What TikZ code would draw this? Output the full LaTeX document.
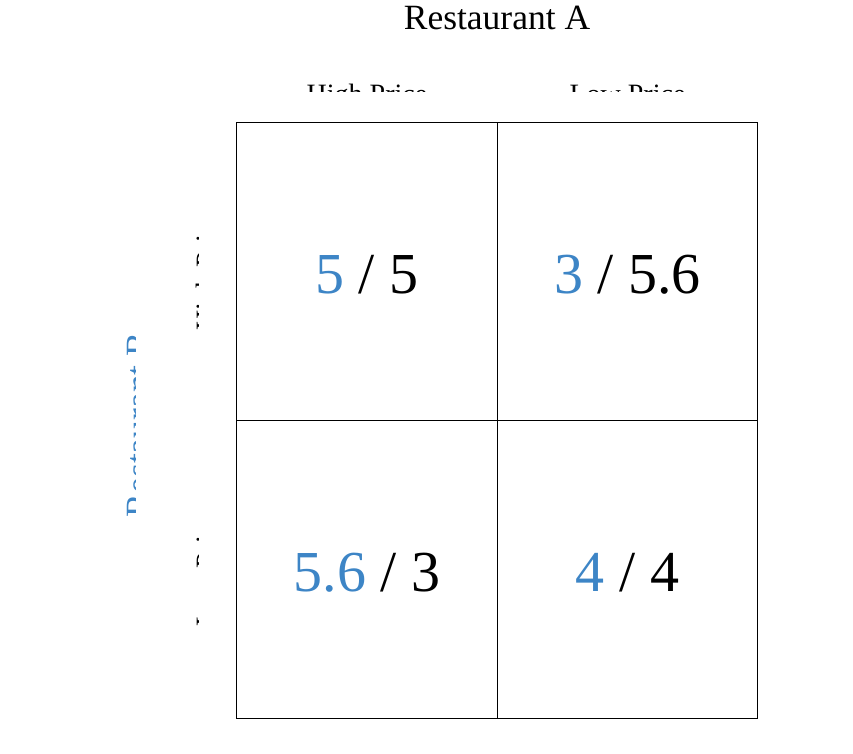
\documentclass[tikz,border=0pt]{standalone}
\usepackage{fontspec}
\setmainfont{Liberation Serif}
\usetikzlibrary{positioning}
\definecolor{payoff-blue}{RGB}{61,133,198}

\tikzset{
  cell/.style={draw=black, line width=0.8pt, minimum width=260.5pt, minimum height=298pt,
    inner sep=0pt, text height=44pt, text depth=0pt, font=\fontsize{58}{64}\selectfont},
  header/.style={font=\fontsize{28}{32}\selectfont, inner sep=0pt, anchor=base},
  title/.style={font=\fontsize{35.5}{40}\selectfont, inner sep=0pt, anchor=base},
}

\begin{document}
\begin{tikzpicture}[x=1pt,y=-1pt]
\useasboundingbox (0,0) rectangle (853,753);
\node[title] (resta) at (497,29.5) {Restaurant A};
\begin{scope}
\clip (0,0) rectangle (853,91);
\node[header] (colhigh) at (367,103.5) {High Price};
\node[header] (collow) at (627.5,103.5) {Low Price};
\end{scope}
\begin{scope}
\clip (0,0) rectangle (198,753);
\node[header, rotate=90] (rowhigh) at (215.8,270) {High Price};
\node[header, rotate=90] (rowlow) at (215.8,569) {Low Price};
\end{scope}
\begin{scope}
\clip (0,0) rectangle (135,753);
\node[title, rotate=90, text=payoff-blue] (restb) at (150.5,425) {Restaurant B};
\end{scope}
\node[cell] (hh) at (367,271) {\textcolor{payoff-blue}{5} / 5};
\node[cell] (hl) at (627.5,271) {\textcolor{payoff-blue}{3} / 5.6};
\node[cell] (lh) at (367,569) {\textcolor{payoff-blue}{5.6} / 3};
\node[cell] (ll) at (627.5,569) {\textcolor{payoff-blue}{4} / 4};
\end{tikzpicture}
\end{document}
